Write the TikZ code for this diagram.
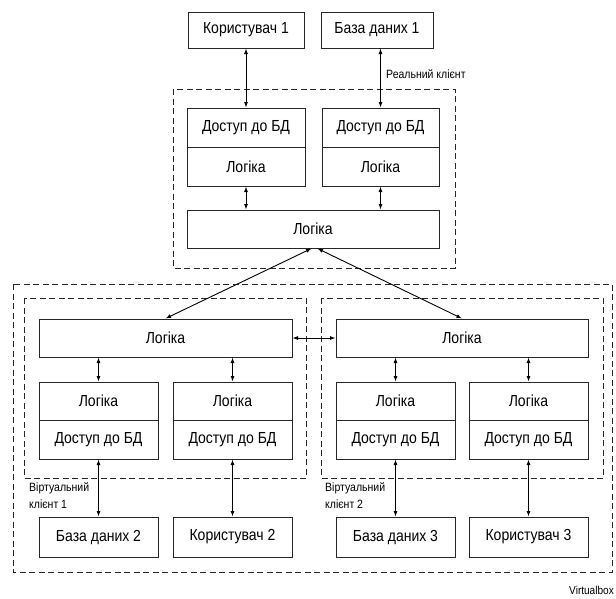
\documentclass[tikz,border=0pt]{standalone}
\usepackage{fontspec}
\setmainfont{Liberation Sans}[FakeStretch=0.875]
\usetikzlibrary{arrows.meta,calc}
\tikzset{
  box/.style={draw=black!85, line width=1pt, fill=white, inner sep=0pt, font=\fontsize{16}{18}\selectfont},
  grp/.style={draw=black!85, line width=1pt, dash pattern=on 6pt off 3.5pt},
  arr/.style={line width=0.9pt, {Latex[length=5.5pt,width=4pt]}-{Latex[length=5.5pt,width=4pt]}},
  lbl/.style={font=\fontsize{12}{16}\selectfont, inner sep=0pt, align=left}
}
\begin{document}
\begin{tikzpicture}[x=1pt,y=-1pt]
\useasboundingbox (0,0) rectangle (616,598);
% group frames
\draw[grp] (173,89) rectangle (455,268);
\draw[grp] (13,284) rectangle (612,572);
\draw[grp] (24,298) rectangle (306,478);
\draw[grp] (321,298) rectangle (603,478);
% real client
\node[box, minimum width=116, minimum height=36] (u1) at (246,30) {Користувач 1};
\node[box, minimum width=112, minimum height=36] (db1) at (377,30) {База даних 1};
\node[box, minimum width=118, minimum height=39] (ra1) at (246,127.5) {Доступ до БД};
\node[box, minimum width=118, minimum height=39] (rl1) at (246,166.5) {Логіка};
\node[box, minimum width=117, minimum height=39] (ra2) at (380.5,127.5) {Доступ до БД};
\node[box, minimum width=117, minimum height=39] (rl2) at (380.5,166.5) {Логіка};
\node[box, minimum width=252, minimum height=38] (rbig) at (313,229) {Логіка};
% virtual client 1
\node[box, minimum width=253, minimum height=38] (ltop) at (165.5,338) {Логіка};
\node[box, minimum width=119, minimum height=38] (ll1) at (98.5,401) {Логіка};
\node[box, minimum width=119, minimum height=39] (la1) at (98.5,439.5) {Доступ до БД};
\node[box, minimum width=119, minimum height=38] (ll2) at (232.5,401) {Логіка};
\node[box, minimum width=119, minimum height=39] (la2) at (232.5,439.5) {Доступ до БД};
\node[box, minimum width=119, minimum height=40] (db2) at (98.5,537) {База даних 2};
\node[box, minimum width=119, minimum height=40] (u2) at (232.5,537) {Користувач 2};
% virtual client 2
\node[box, minimum width=252, minimum height=38] (rtop) at (462,338) {Логіка};
\node[box, minimum width=119, minimum height=38] (vl1) at (395.5,401) {Логіка};
\node[box, minimum width=119, minimum height=39] (va1) at (395.5,439.5) {Доступ до БД};
\node[box, minimum width=119, minimum height=38] (vl2) at (528.5,401) {Логіка};
\node[box, minimum width=119, minimum height=39] (va2) at (528.5,439.5) {Доступ до БД};
\node[box, minimum width=119, minimum height=40] (db3) at (395.5,537) {База даних 3};
\node[box, minimum width=119, minimum height=40] (u3) at (528.5,537) {Користувач 3};
% labels
\node[lbl, anchor=west] (lreal) at (386,74) {Реальний клієнт};
\node[lbl, anchor=north west, font=\fontsize{12}{17}\selectfont] (lv1) at (29,482) {Віртуальний\\клієнт 1};
\node[lbl, anchor=north west, font=\fontsize{12}{17}\selectfont] (lv2) at (325,482) {Віртуальний\\клієнт 2};
\node[lbl, anchor=east, font=\fontsize{11.5}{13}\selectfont] (lvb) at (614,590) {Virtualbox};
% connectors: real client
\draw[arr] (u1.south -| ra1.north) -- (ra1.north);
\draw[arr] (db1.south -| ra2.north) -- (ra2.north);
\draw[arr] (rl1.south) -- (rl1.south |- rbig.north);
\draw[arr] (rl2.south) -- (rl2.south |- rbig.north);
\coordinate (t1) at ($(rbig.south)+(-1.5,0)$);
\coordinate (t2) at ($(rbig.south)+(4.5,0)$);
\draw[arr] (ltop.north) -- (t1);
\draw[arr] (rtop.north) -- (t2);
\draw[arr] (ltop.east) -- (rtop.west);
% virtual client 1
\draw[arr] (ll1.north |- ltop.south) -- (ll1.north);
\draw[arr] (ll2.north |- ltop.south) -- (ll2.north);
\draw[arr] (la1.south) -- (db2.north);
\draw[arr] (la2.south) -- (u2.north);
% virtual client 2
\draw[arr] (vl1.north |- rtop.south) -- (vl1.north);
\draw[arr] (vl2.north |- rtop.south) -- (vl2.north);
\draw[arr] (va1.south) -- (db3.north);
\draw[arr] (va2.south) -- (u3.north);
\end{tikzpicture}
\end{document}
